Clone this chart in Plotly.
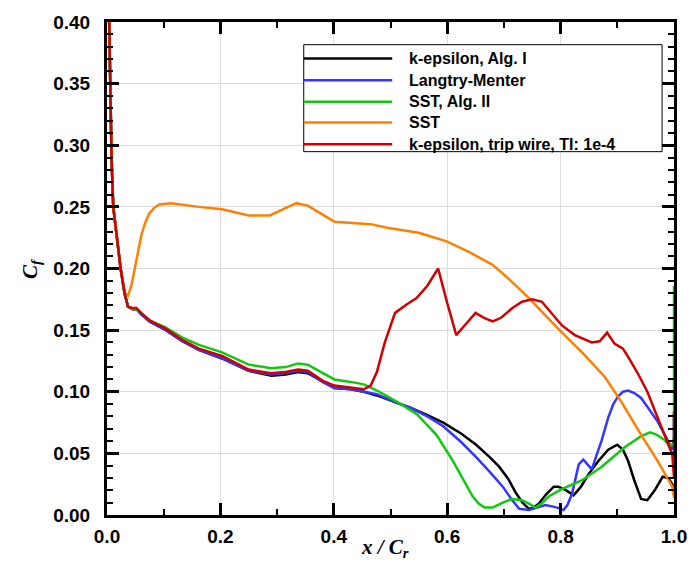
import plotly.graph_objects as go

# Skin-friction coefficient along the chord, five turbulence/transition models
series_names = [
    "k-epsilon, Alg. I",
    "Langtry-Menter",
    "SST, Alg. II",
    "SST",
    "k-epsilon, trip wire, TI: 1e-4",
]
series_colors = ["#000000", "#3535ff", "#10c810", "#ff8000", "#d00000"]

# leading-edge part shared by the attached-flow solutions
lead_x = [0.002, 0.004, 0.006, 0.008, 0.011, 0.017, 0.024, 0.031, 0.037]
lead_y = [0.45, 0.39, 0.33, 0.29, 0.25, 0.225, 0.20, 0.180, 0.169]

ke1_x = lead_x + [0.045, 0.052, 0.060, 0.075, 0.104, 0.133, 0.162, 0.203, 0.250, 0.290,
                  0.315, 0.337, 0.354, 0.380, 0.401, 0.430, 0.453, 0.476, 0.511, 0.535,
                  0.565, 0.593, 0.625, 0.651, 0.675, 0.692, 0.708, 0.721, 0.733, 0.744,
                  0.752, 0.761, 0.775, 0.788, 0.796, 0.810, 0.823, 0.836, 0.849, 0.867,
                  0.884, 0.900, 0.910, 0.919, 0.930, 0.942, 0.953, 0.966, 0.980, 0.990,
                  0.997, 1.000]
ke1_y = lead_y + [0.167, 0.167, 0.163, 0.157, 0.150, 0.141, 0.134, 0.127, 0.117, 0.113,
                  0.114, 0.116, 0.115, 0.108, 0.103, 0.102, 0.100, 0.097, 0.091, 0.087,
                  0.081, 0.075, 0.066, 0.057, 0.047, 0.039, 0.029, 0.018, 0.010, 0.005,
                  0.006, 0.009, 0.017, 0.023, 0.023, 0.020, 0.016, 0.023, 0.033, 0.044,
                  0.053, 0.057, 0.053, 0.044, 0.028, 0.013, 0.012, 0.020, 0.031, 0.030,
                  0.025, 0.020]

lm_x = lead_x + [0.045, 0.052, 0.060, 0.075, 0.104, 0.133, 0.162, 0.203, 0.250, 0.290,
                 0.315, 0.337, 0.354, 0.380, 0.401, 0.430, 0.453, 0.476, 0.511, 0.535,
                 0.565, 0.593, 0.625, 0.651, 0.675, 0.698, 0.713, 0.727, 0.744, 0.760,
                 0.773, 0.785, 0.794, 0.805, 0.812, 0.820, 0.826, 0.832, 0.840, 0.848,
                 0.855, 0.863, 0.872, 0.884, 0.893, 0.901, 0.910, 0.919, 0.930, 0.942,
                 0.956, 0.971, 0.985, 0.997, 1.000, 1.000]
lm_y = lead_y + [0.167, 0.167, 0.163, 0.157, 0.150, 0.141, 0.134, 0.127, 0.117, 0.114,
                 0.115, 0.117, 0.116, 0.108, 0.103, 0.102, 0.100, 0.098, 0.091, 0.087,
                 0.080, 0.072, 0.059, 0.047, 0.035, 0.023, 0.013, 0.005, 0.004, 0.006,
                 0.008, 0.007, 0.006, 0.004, 0.008, 0.017, 0.030, 0.041, 0.045, 0.041,
                 0.037, 0.048, 0.060, 0.079, 0.090, 0.096, 0.100, 0.101, 0.099, 0.095,
                 0.086, 0.076, 0.064, 0.053, 0.063, 0.082]

sst2_x = lead_x + [0.045, 0.052, 0.060, 0.075, 0.104, 0.133, 0.162, 0.203, 0.250, 0.290,
                   0.315, 0.337, 0.354, 0.380, 0.401, 0.430, 0.453, 0.476, 0.511, 0.546,
                   0.581, 0.610, 0.630, 0.645, 0.656, 0.666, 0.680, 0.698, 0.715, 0.732,
                   0.745, 0.756, 0.768, 0.779, 0.802, 0.837, 0.872, 0.913, 0.942, 0.958,
                   0.970, 0.983, 0.992, 0.997, 1.000, 1.000]
sst2_y = lead_y + [0.167, 0.167, 0.164, 0.158, 0.152, 0.144, 0.138, 0.132, 0.122, 0.119,
                   0.120, 0.123, 0.122, 0.115, 0.110, 0.108, 0.106, 0.101, 0.092, 0.082,
                   0.065, 0.044, 0.028, 0.015, 0.009, 0.006, 0.006, 0.010, 0.013, 0.012,
                   0.009, 0.006, 0.010, 0.015, 0.021, 0.028, 0.039, 0.055, 0.064, 0.067,
                   0.065, 0.061, 0.056, 0.057, 0.060, 0.186]

sst_x = lead_x[:-1] + [0.037, 0.043, 0.049, 0.055, 0.061, 0.068, 0.075, 0.083, 0.092, 0.113,
                       0.162, 0.203, 0.250, 0.287, 0.310, 0.334, 0.354, 0.380, 0.401, 0.465,
                       0.494, 0.550, 0.599, 0.640, 0.680, 0.710, 0.744, 0.796, 0.840, 0.878,
                       0.907, 0.942, 0.971, 0.997, 1.000]
sst_y = lead_y[:-1] + [0.178, 0.186, 0.199, 0.214, 0.228, 0.238, 0.245, 0.249, 0.252, 0.253,
                       0.250, 0.248, 0.243, 0.243, 0.248, 0.253, 0.251, 0.244, 0.238, 0.236,
                       0.233, 0.229, 0.222, 0.213, 0.203, 0.191, 0.176, 0.151, 0.131, 0.112,
                       0.092, 0.065, 0.044, 0.023, 0.014]

trip_x = lead_x + [0.045, 0.052, 0.060, 0.075, 0.104, 0.133, 0.162, 0.203, 0.250, 0.290,
                   0.315, 0.337, 0.354, 0.380, 0.401, 0.430, 0.453, 0.465, 0.476, 0.490,
                   0.508, 0.529, 0.546, 0.565, 0.584, 0.600, 0.616, 0.633, 0.650, 0.665,
                   0.680, 0.695, 0.715, 0.732, 0.750, 0.767, 0.785, 0.802, 0.825, 0.855,
                   0.869, 0.882, 0.895, 0.910, 0.922, 0.936, 0.953, 0.971, 0.985, 0.997,
                   1.000, 1.000]
trip_y = lead_y + [0.168, 0.168, 0.164, 0.158, 0.151, 0.142, 0.135, 0.129, 0.118, 0.115,
                   0.116, 0.118, 0.117, 0.109, 0.105, 0.103, 0.102, 0.105, 0.116, 0.140,
                   0.164, 0.171, 0.176, 0.186, 0.200, 0.172, 0.146, 0.155, 0.164, 0.160,
                   0.157, 0.160, 0.168, 0.173, 0.175, 0.173, 0.163, 0.154, 0.146, 0.140,
                   0.141, 0.148, 0.139, 0.135, 0.126, 0.115, 0.100, 0.079, 0.064, 0.049,
                   0.030, 0.084]

series_x = [ke1_x, lm_x, sst2_x, sst_x, trip_x]
series_y = [ke1_y, lm_y, sst2_y, sst_y, trip_y]

x_ticks = [0.0, 0.2, 0.4, 0.6, 0.8, 1.0]
y_ticks = [0.00, 0.05, 0.10, 0.15, 0.20, 0.25, 0.30, 0.35, 0.40]

fig = go.Figure()
for name, color, xs, ys in zip(series_names, series_colors, series_x, series_y):
    fig.add_trace(go.Scatter(x=xs, y=ys, mode="lines", name=name,
                             line=dict(color=color, width=2.5), showlegend=False))

tick_font = dict(family="Liberation Sans, Arial, sans-serif", size=19, color="black", weight="bold")
axis_common = dict(
    ticks="inside", ticklen=12, tickwidth=2.5, tickcolor="black",
    showline=True, linewidth=3, linecolor="black", mirror="allticks",
    showgrid=True, gridcolor="#dcdcdc", gridwidth=1, zeroline=False,
    tickfont=tick_font,
)

fig.update_xaxes(range=[0, 1], tickvals=x_ticks, tickformat=".1f", ticklabelstandoff=2,
                 minor=dict(dtick=0.1, tick0=0, ticks="inside", ticklen=6, tickwidth=2,
                            tickcolor="black", showgrid=False),
                 **axis_common)
fig.update_yaxes(range=[0, 0.4], tickvals=y_ticks, tickformat=".2f", ticklabelstandoff=10,
                 minor=dict(dtick=0.01, tick0=0, ticks="inside", ticklen=6, tickwidth=2,
                            tickcolor="black", showgrid=False),
                 **axis_common)

title_font = dict(family="Liberation Serif, Times New Roman, serif", size=21, color="black",
                  weight="bold", style="italic")
annotations = [
    dict(text="<i>x</i> / <i>C</i><sub><i>r</i></sub>", x=0.49, y=-0.066, xref="paper",
         yref="paper", xanchor="center", yanchor="middle", showarrow=False, font=title_font),
    dict(text="<i>C</i><sub><i>f</i></sub>", x=-0.135, y=0.50, xref="paper", yref="paper",
         xanchor="center", yanchor="middle", showarrow=False, textangle=-90, font=title_font),
]

# legend box drawn in paper coordinates
shapes = [dict(type="rect", xref="paper", yref="paper", x0=0.347, x1=0.979, y0=0.737, y1=0.954,
               line=dict(color="black", width=1), fillcolor="white", layer="above")]
legend_font = dict(family="Liberation Sans, Arial, sans-serif", size=16, color="black", weight="bold")
row_y = [0.926, 0.882, 0.838, 0.796, 0.752]
for name, color, ry in zip(series_names, series_colors, row_y):
    shapes.append(dict(type="line", xref="paper", yref="paper", x0=0.347, x1=0.503, y0=ry, y1=ry,
                       line=dict(color=color, width=2.5), layer="above"))
    annotations.append(dict(text=name, x=0.529, y=ry, xref="paper", yref="paper",
                            xanchor="left", yanchor="middle", showarrow=False, font=legend_font))

fig.update_layout(
    width=699, height=563,
    margin=dict(l=107, r=19, t=16, b=48),
    paper_bgcolor="white", plot_bgcolor="white",
    shapes=shapes, annotations=annotations,
    showlegend=False,
)

fig.write_html("out.html")
